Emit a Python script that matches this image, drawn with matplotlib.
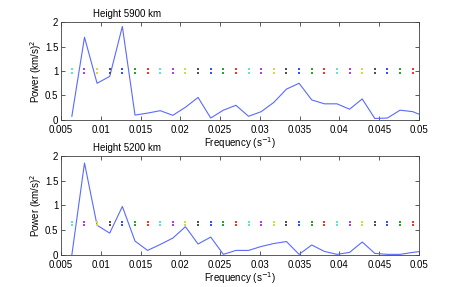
import numpy as np
import matplotlib.pyplot as plt

plt.rcParams['font.family'] = ['Liberation Sans', 'DejaVu Sans']
plt.rcParams['font.size'] = 7

# Frequencies of the spectral points [s^-1]
freq = [0.00635, 0.00794, 0.00952, 0.01111, 0.01270, 0.01429, 0.01587,
        0.01746, 0.01905, 0.02063, 0.02222, 0.02381, 0.02540, 0.02698,
        0.02857, 0.03016, 0.03175, 0.03333, 0.03492, 0.03651, 0.03810,
        0.03968, 0.04127, 0.04286, 0.04444, 0.04603, 0.04762, 0.04921,
        0.05079]

# Power spectra at the two heights [(km/s)^2]
power_5900 = [0.075, 1.69, 0.75, 0.89, 1.91, 0.10, 0.14, 0.19, 0.095, 0.26,
              0.46, 0.04, 0.20, 0.30, 0.075, 0.17, 0.36, 0.63, 0.75, 0.41,
              0.33, 0.33, 0.22, 0.43, 0.03, 0.04, 0.20, 0.17, 0.065]
power_5200 = [0.0, 1.86, 0.60, 0.44, 0.98, 0.28, 0.09, 0.21, 0.34, 0.57,
              0.22, 0.36, 0.01, 0.09, 0.09, 0.17, 0.23, 0.27, 0.01, 0.20,
              0.07, 0.01, 0.05, 0.26, 0.03, 0.01, 0.01, 0.05, 0.08]

# Significance marker rows (two levels per panel)
marks_5900 = [1.05, 0.965]
marks_5200 = [0.675, 0.61]

titles = ['Height 5900 km', 'Height 5200 km']
xticks = [0.005, 0.01, 0.015, 0.02, 0.025, 0.03, 0.035, 0.04, 0.045, 0.05]
xticklabels = ['0.005', '0.01', '0.015', '0.02', '0.025', '0.03', '0.035', '0.04', '0.045', '0.05']
yticks = [0, 0.5, 1, 1.5, 2]
yticklabels = ['0', '0.5', '1', '1.5', '2']

dot_colors = ['#5ee8c8', '#b040e8', '#d8d840', '#505050', '#3050ff', '#30a030', '#ff3030']
line_color = '#5a6aff'

fig = plt.figure(figsize=(4.63, 2.87), dpi=100)
ax_top = fig.add_axes([0.132, 0.582, 0.773, 0.341])
ax_bot = fig.add_axes([0.132, 0.112, 0.773, 0.344])

for ax, power, marks, title in zip([ax_top, ax_bot], [power_5900, power_5200],
                                   [marks_5900, marks_5200], titles):
    ax.plot(freq, power, color=line_color, linewidth=0.8)
    for i, f in enumerate(freq[:-1]):
        c = dot_colors[i % len(dot_colors)]
        ax.plot([f, f], marks, linestyle='none', marker='s', markersize=1.5,
                markeredgewidth=0, color=c)
    ax.set_xlim(0.005, 0.05)
    ax.set_ylim(0, 2)
    ax.set_xticks(xticks)
    ax.set_xticklabels(xticklabels)
    ax.set_yticks(yticks)
    ax.set_yticklabels(yticklabels)
    ax.tick_params(direction='in', length=3, width=0.6, top=True, right=True,
                   pad=2, labelsize=7, color='#404040')
    ax.tick_params(axis='x', pad=3.5)
    for s in ax.spines.values():
        s.set_linewidth(0.6)
        s.set_color('#404040')
    ax.set_xlabel('Frequency (s$^{-1}$)', fontsize=7, labelpad=0)
    ax.set_ylabel('Power (km/s)$^2$', fontsize=7, labelpad=1)
    ax.text(0.185, 1.03, title, transform=ax.transAxes, ha='center',
            va='bottom', fontsize=7)

fig.savefig('out.png', dpi=100)
